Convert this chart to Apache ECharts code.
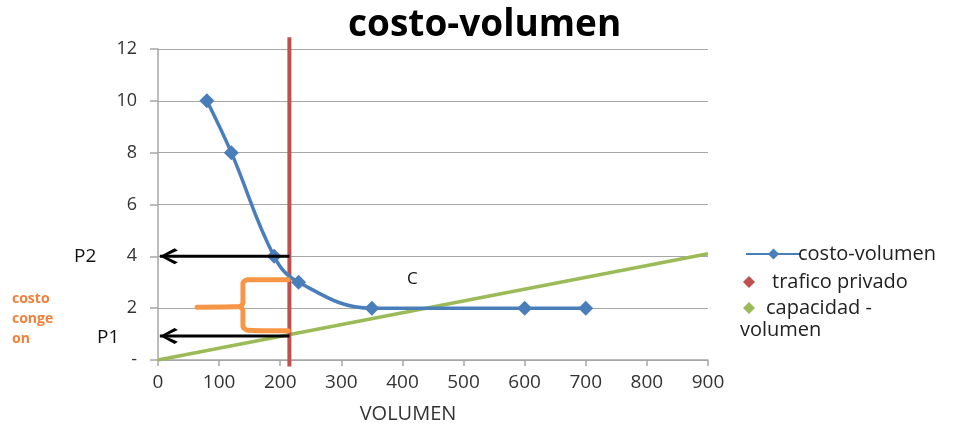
<!DOCTYPE html>
<html>
<head>
<meta charset="utf-8">
<script src="https://cdn.jsdelivr.net/npm/echarts@6/dist/echarts.min.js"></script>
<style>
html,body{margin:0;padding:0;background:#fff;}
#chart{width:954px;height:425px;}
</style>
</head>
<body>
<div id="chart"></div>
<script>
// ---- data ----
var costoVolumen = [[80, 10], [120, 8], [190, 4], [230, 3], [350, 2], [600, 2], [700, 2]];
var traficoPrivadoX = 215;
var traficoPrivadoSpan = [-0.25, 12.45];
var capacidadVolumen = [[0, 0], [900, 4.1]];
var p2Level = 4;
var p1Level = 0.93;
var arrowEndX = 3;
var braceTop = [[213, 3.1], [146, 3.1], [139, 2.98], [139, 2.2], [134, 2.06], [64, 2.04]];
var braceBottom = [[134, 2.06], [139, 1.92], [139, 1.28], [146, 1.15], [213, 1.13]];
var xTicks = [0, 100, 200, 300, 400, 500, 600, 700, 800, 900];
var yTicks = [0, 2, 4, 6, 8, 10, 12];

var FONT = 'Open Sans';
var chevron = 'path://M9,0 L11,1.6 L3.2,6 L11,10.4 L9,12 L0,6 Z';

function arrowSeries(level) {
  return {
    type: 'line',
    name: 'arrow' + level,
    data: [
      { value: [traficoPrivadoX, level], symbol: 'none' },
      { value: [arrowEndX, level], symbol: chevron, symbolSize: [18, 16], symbolOffset: [9, 0] }
    ],
    showSymbol: true,
    lineStyle: { color: '#000', width: 3 },
    itemStyle: { color: '#000' },
    silent: true,
    clip: false,
    z: 6
  };
}

var chart = echarts.init(document.getElementById('chart'));
chart.setOption({
  animation: false,
  backgroundColor: '#fff',
  title: {
    text: 'costo-volumen',
    left: 343,
    top: 2,
    textStyle: { fontFamily: FONT, fontWeight: 'bold', fontSize: 37, color: '#000' }
  },
  grid: { left: 158, right: 246, top: 49, bottom: 65, containLabel: false, outerBoundsMode: 'none' },
  xAxis: {
    type: 'value',
    min: 0, max: 900, interval: 100,
    name: 'VOLUMEN',
    nameLocation: 'middle',
    nameGap: 44,
    nameTextStyle: { fontFamily: FONT, fontSize: 20, color: '#333', padding: [0, 50, 0, 0] },
    axisLine: { show: true, lineStyle: { color: '#a6a6a6', width: 1.5 } },
    axisTick: { show: true, length: 6, lineStyle: { color: '#a6a6a6', width: 1.5 } },
    axisLabel: { margin: 13, fontFamily: FONT, fontSize: 19, color: '#333' },
    splitLine: { show: false }
  },
  yAxis: {
    type: 'value',
    min: 0, max: 12, interval: 2,
    axisLine: { show: true, lineStyle: { color: '#a6a6a6', width: 1.5 } },
    axisTick: { show: true, length: 8, lineStyle: { color: '#a6a6a6', width: 1.5 } },
    axisLabel: {
      margin: 21, fontFamily: FONT, fontSize: 18, color: '#333',
      formatter: function (v) { return v === 0 ? '-' : String(v); }
    },
    splitLine: { show: true, lineStyle: { color: '#a6a6a6', width: 1.2 } }
  },
  legend: [
    {
      left: 740, top: 239, itemWidth: 55, itemHeight: 14, itemGap: 2,
      data: [{ name: 'costo-volumen' }],
      textStyle: { fontFamily: FONT, fontSize: 20, color: '#222', padding: [0, 0, 0, -8] }
    },
    {
      left: 738, top: 267, itemWidth: 12, itemHeight: 12,
      data: [{ name: 'trafico privado', icon: 'diamond' }],
      textStyle: { fontFamily: FONT, fontSize: 20, color: '#222', padding: [0, 0, 0, 12] }
    },
    {
      left: 738, top: 293, itemWidth: 12, itemHeight: 12,
      data: [{ name: 'capacidad - volumen', icon: 'diamond' }],
      formatter: function () { return 'capacidad -'; },
      textStyle: { fontFamily: FONT, fontSize: 20, color: '#222', padding: [0, 0, 0, 6] }
    }
  ],
  graphic: [
    { type: 'text', left: 740, top: 320, style: { text: 'volumen', font: '20px "Open Sans"', fill: '#222' } },
    { type: 'text', left: 74, top: 247, style: { text: 'P2', font: '19px "Open Sans"', fill: '#111' } },
    { type: 'text', left: 97, top: 328, style: { text: 'P1', font: '19px "Open Sans"', fill: '#111' } },
    { type: 'text', left: 407, top: 271, style: { text: 'C', font: '17px "Open Sans"', fill: '#111' } },
    { type: 'text', left: 12, top: 289, style: { text: 'costo\nconge\non', font: 'bold 14px "Open Sans"', fill: '#f0803c', lineHeight: 20 } }
  ],
  series: [
    {
      type: 'line',
      name: 'capacidad - volumen',
      data: capacidadVolumen,
      symbol: 'diamond',
      showSymbol: false,
      itemStyle: { color: '#9bbb59' },
      lineStyle: { color: '#9bbb59', width: 3.5 },
      z: 3
    },
    {
      type: 'line',
      name: 'trafico privado',
      data: [[traficoPrivadoX, traficoPrivadoSpan[0]], [traficoPrivadoX, traficoPrivadoSpan[1]]],
      symbol: 'diamond',
      showSymbol: false,
      clip: false,
      itemStyle: { color: '#c0504d' },
      lineStyle: { color: '#c0504d', width: 4 },
      z: 4
    },
    {
      type: 'line',
      name: 'costo-volumen',
      data: costoVolumen,
      smooth: 0.4,
      symbol: 'diamond',
      symbolSize: 15,
      itemStyle: { color: '#4a7ebb' },
      lineStyle: { color: '#4a7ebb', width: 3.5 },
      z: 5
    },
    {
      type: 'line', name: 'braceTop', data: braceTop, symbol: 'none', smooth: 0.2,
      lineStyle: { color: '#f79646', width: 5, cap: 'round', join: 'round' }, silent: true, z: 6
    },
    {
      type: 'line', name: 'braceBottom', data: braceBottom, symbol: 'none', smooth: 0.2,
      lineStyle: { color: '#f79646', width: 5, cap: 'round', join: 'round' }, silent: true, z: 6
    },
    arrowSeries(p2Level),
    arrowSeries(p1Level)
  ]
});
</script>
</body>
</html>
